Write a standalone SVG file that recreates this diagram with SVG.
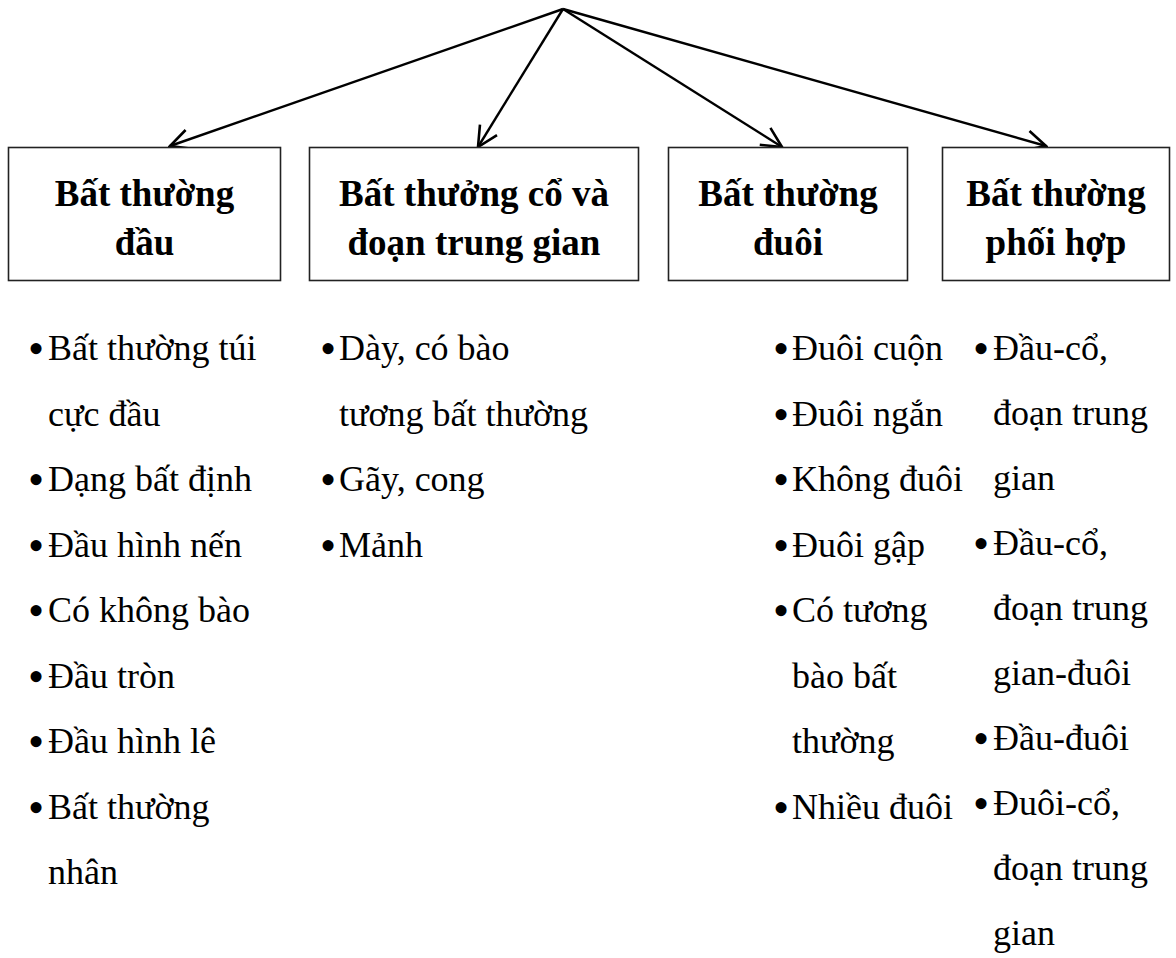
<svg xmlns="http://www.w3.org/2000/svg" width="1176" height="958" viewBox="0 0 1176 958">
<style>
.box{fill:#fff;stroke:#222;stroke-width:1.6}
.title{font-family:"Liberation Serif","Times New Roman",serif;font-weight:bold;font-size:37px;fill:#000;text-anchor:middle}
.item{font-family:"Liberation Serif","Times New Roman",serif;font-size:36px;fill:#000}
.bul{font-family:"Liberation Serif","Times New Roman",serif;font-size:46px;fill:#000;text-anchor:middle}
.conn{stroke:#000;stroke-width:2.4;fill:none;marker-end:url(#arr)}
</style>
<defs>
<marker id="arr" viewBox="0 0 24 24" markerWidth="24" markerHeight="24" refX="22" refY="12" orient="auto" markerUnits="userSpaceOnUse">
<path d="M2,2 L22,12 L2,22" fill="none" stroke="#000" stroke-width="2.6"/>
</marker>
</defs>
<rect width="1176" height="958" fill="#fff"/>
<g id="connectors">
<line class="conn" x1="563" y1="9" x2="170" y2="146"/>
<line class="conn" x1="563" y1="9" x2="478" y2="147"/>
<line class="conn" x1="563" y1="9" x2="782" y2="147"/>
<line class="conn" x1="563" y1="9" x2="1046" y2="146"/>
</g>
<g id="box-dau">
<rect class="box" x="8.5" y="147.5" width="272" height="133"/>
<text class="title" x="144.5" y="206">Bất thường</text>
<text class="title" x="144.5" y="255">đầu</text>
</g>
<g id="box-co">
<rect class="box" x="309.5" y="147.5" width="329" height="133"/>
<text class="title" x="474" y="206">Bất thưởng cổ và</text>
<text class="title" x="474" y="255">đoạn trung gian</text>
</g>
<g id="box-duoi">
<rect class="box" x="668.5" y="147.5" width="239" height="133"/>
<text class="title" x="788" y="206">Bất thường</text>
<text class="title" x="788" y="255">đuôi</text>
</g>
<g id="box-phoihop">
<rect class="box" x="942.5" y="147.5" width="227" height="133"/>
<text class="title" x="1056" y="206">Bất thường</text>
<text class="title" x="1056" y="255">phối hợp</text>
</g>
<g id="list-dau">
<text class="bul" x="36" y="364">•</text><text class="item" x="48" y="360">Bất thường túi</text>
<text class="item" x="48" y="425.5">cực đầu</text>
<text class="bul" x="36" y="495">•</text><text class="item" x="48" y="491">Dạng bất định</text>
<text class="bul" x="36" y="560.5">•</text><text class="item" x="48" y="556.5">Đầu hình nến</text>
<text class="bul" x="36" y="626">•</text><text class="item" x="48" y="622">Có không bào</text>
<text class="bul" x="36" y="691.5">•</text><text class="item" x="48" y="687.5">Đầu tròn</text>
<text class="bul" x="36" y="757">•</text><text class="item" x="48" y="753">Đầu hình lê</text>
<text class="bul" x="36" y="822.5">•</text><text class="item" x="48" y="818.5">Bất thường</text>
<text class="item" x="48" y="884">nhân</text>
</g>
<g id="list-co">
<text class="bul" x="328" y="364">•</text><text class="item" x="339" y="360">Dày, có bào</text>
<text class="item" x="339" y="425.5">tương bất thường</text>
<text class="bul" x="328" y="495">•</text><text class="item" x="339" y="491">Gãy, cong</text>
<text class="bul" x="328" y="560.5">•</text><text class="item" x="339" y="556.5">Mảnh</text>
</g>
<g id="list-duoi">
<text class="bul" x="781" y="364">•</text><text class="item" x="792" y="360">Đuôi cuộn</text>
<text class="bul" x="781" y="429.5">•</text><text class="item" x="792" y="425.5">Đuôi ngắn</text>
<text class="bul" x="781" y="495">•</text><text class="item" x="792" y="491">Không đuôi</text>
<text class="bul" x="781" y="560.5">•</text><text class="item" x="792" y="556.5">Đuôi gập</text>
<text class="bul" x="781" y="626">•</text><text class="item" x="792" y="622">Có tương</text>
<text class="item" x="792" y="687.5">bào bất</text>
<text class="item" x="792" y="753">thường</text>
<text class="bul" x="781" y="822.5">•</text><text class="item" x="792" y="818.5">Nhiều đuôi</text>
</g>
<g id="list-phoihop">
<text class="bul" x="981" y="364">•</text><text class="item" x="993" y="360">Đầu-cổ,</text>
<text class="item" x="993" y="425">đoạn trung</text>
<text class="item" x="993" y="490">gian</text>
<text class="bul" x="981" y="559">•</text><text class="item" x="993" y="555">Đầu-cổ,</text>
<text class="item" x="993" y="620">đoạn trung</text>
<text class="item" x="993" y="685">gian-đuôi</text>
<text class="bul" x="981" y="754">•</text><text class="item" x="993" y="750">Đầu-đuôi</text>
<text class="bul" x="981" y="819">•</text><text class="item" x="993" y="815">Đuôi-cổ,</text>
<text class="item" x="993" y="880">đoạn trung</text>
<text class="item" x="993" y="945">gian</text>
</g>
</svg>
